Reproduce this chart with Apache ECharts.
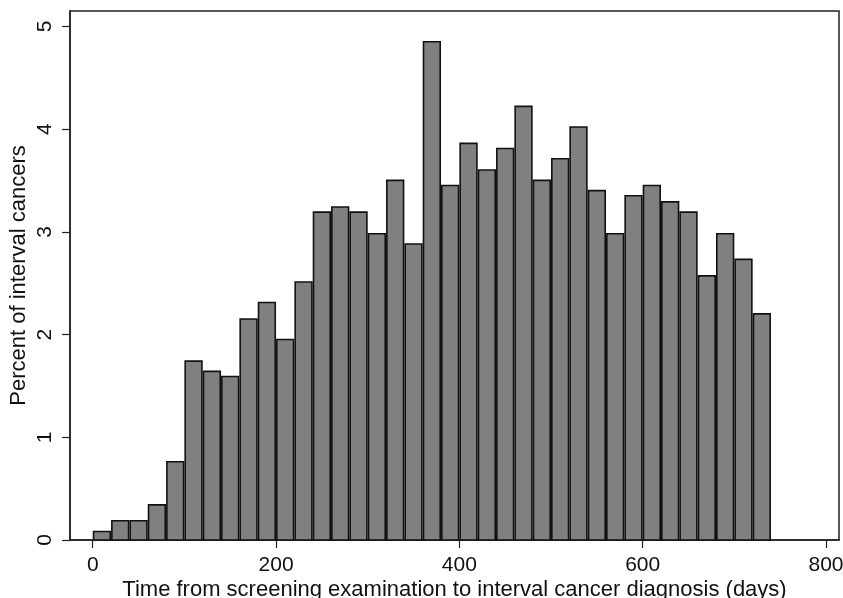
<!DOCTYPE html>
<html>
<head>
<meta charset="utf-8">
<script src="https://cdn.jsdelivr.net/npm/echarts@6/dist/echarts.min.js"></script>
<style>html,body{margin:0;padding:0;background:#fff}#c{width:843px;height:598px}</style>
</head>
<body>
<div id="c"></div>
<script>
// Histogram bins (days), 20-day width
var binStarts = [0,20,40,60,80,100,120,140,160,180,200,220,240,260,280,300,320,340,360,380,400,420,440,460,480,500,520,540,560,580,600,620,640,660,680,700,720];
var binEnds   = [20,40,60,80,100,120,140,160,180,200,220,240,260,280,300,320,340,360,380,400,420,440,460,480,500,520,540,560,580,600,620,640,660,680,700,720,740];
var percents  = [0.09,0.195,0.195,0.35,0.77,1.75,1.65,1.60,2.16,2.32,1.96,2.52,3.20,3.25,3.20,2.99,3.51,2.89,4.86,3.46,3.87,3.61,3.82,4.23,3.51,3.72,4.03,3.41,2.99,3.36,3.46,3.30,3.20,2.58,2.99,2.74,2.21];
var xTicks = [0,200,400,600,800];
var yTicks = [0,1,2,3,4,5];

var data = binStarts.map(function(s,i){ return [s, binEnds[i], percents[i]]; });

var chart = echarts.init(document.getElementById('c'), null, {renderer:'canvas'});
var font = 'Liberation Sans, Arial, Helvetica, sans-serif';
chart.setOption({
  animation: false,
  backgroundColor: '#fff',
  grid: {left: 70, right: 4, top: 11, bottom: 58, containLabel: false, outerBoundsMode: 'none', show: true, borderColor: '#222', borderWidth: 1.5, backgroundColor: 'transparent'},
  xAxis: {
    type: 'value', min: -24.8, max: 814.2,
    name: 'Time from screening examination to interval cancer diagnosis (days)',
    nameLocation: 'middle', nameGap: 39, nameMoveOverlap: false,
    nameTextStyle: {fontFamily: font, fontSize: 22, color: '#111'},
    axisLine: {show: true, onZero: false, lineStyle: {color: '#222', width: 1.5}},
    axisTick: {show: true, inside: false, length: 8, customValues: xTicks, lineStyle: {color: '#222', width: 1.2}},
    axisLabel: {customValues: xTicks, margin: 15, fontFamily: font, fontSize: 21, color: '#111'},
    splitLine: {show: false}
  },
  yAxis: {
    type: 'value', min: 0, max: 5.151,
    name: 'Percent of interval cancers',
    nameLocation: 'middle', nameGap: 40, nameMoveOverlap: false,
    nameTextStyle: {fontFamily: font, fontSize: 22, color: '#111'},
    axisLine: {show: true, onZero: false, lineStyle: {color: '#222', width: 1.5}},
    axisTick: {show: true, inside: false, length: 8, customValues: yTicks, lineStyle: {color: '#222', width: 1.2}},
    axisLabel: {customValues: yTicks, rotate: 90, margin: 14, fontFamily: font, fontSize: 21, color: '#111'},
    splitLine: {show: false}
  },
  series: [{
    type: 'custom',
    data: data,
    encode: {x: [0,1], y: 2},
    renderItem: function(params, api){
      var p0 = api.coord([api.value(0), api.value(2)]);
      var p1 = api.coord([api.value(1), 0]);
      var lw = 1.6;
      return {
        type: 'rect',
        shape: {x: p0[0] + lw/2, y: p0[1] + lw/2, width: p1[0] - p0[0] - lw, height: p1[1] - p0[1] - lw/2},
        style: {fill: '#808080', stroke: '#111', lineWidth: lw}
      };
    }
  }]
});
</script>
</body>
</html>
